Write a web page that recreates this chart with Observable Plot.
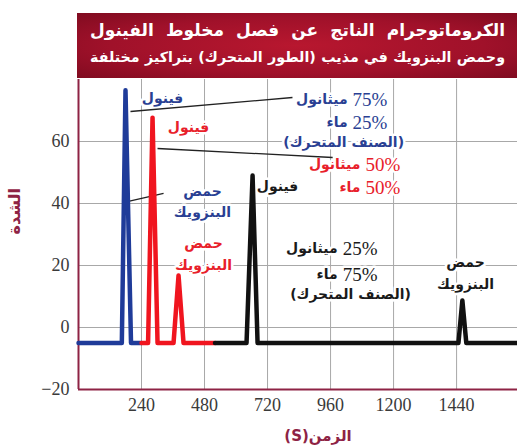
<!DOCTYPE html>
<html><head><meta charset="utf-8">
<script src="https://cdn.jsdelivr.net/npm/d3@7"></script>
<script src="https://cdn.jsdelivr.net/npm/@observablehq/plot@0.6"></script>
<style>
body{margin:0;background:#fff;width:517px;height:448px;overflow:hidden;font-family:"DejaVu Sans",sans-serif;}
#title{margin:13px 0 0 77px;width:440px;height:65px;box-sizing:border-box;padding:4px 12px 0 13px;
  background:radial-gradient(ellipse at 50% 50%,#b8172f 0%,#a0112a 60%,#800b20 100%);
  color:#fff;font-weight:bold;font-size:15px;line-height:27px;direction:rtl;overflow:hidden;}
#title div{text-align:justify;text-align-last:justify;white-space:nowrap;overflow:hidden;}
#chart svg{display:block}
</style></head>
<body>
<div id="title"><div>الكروماتوجرام الناتج عن فصل مخلوط الفينول</div><div>وحمض البنزويك في مذيب (الطور المتحرك) بتراكيز مختلفة</div></div>
<div id="chart"></div>
<script>
// Series: time (s) and intensity
const blueT = [0, 165, 179, 200, 240];
const blueV = [-5, -5, 76.5, -5, -5];
const redT = [240, 265, 282, 301, 362, 381, 400, 520];
const redV = [-5, -5, 67.7, -5, -5, 16.8, -5, -5];
const blackT = [520, 640, 663, 682, 1447, 1462, 1477, 1672];
const blackV = [-5, -5, 49, -5, -5, 8.7, -5, -5];

// Axis ticks
const xTicks = [240, 480, 720, 960, 1200, 1440];
const yTicks = [-20, 0, 20, 40, 60];
const yGrid = [0, 20, 40, 60];

// Annotation texts
const phenolLabel = "فينول";
const benzoicLabel = "حمض\nالبنزويك";
const mobileLabel = "(الصنف المتحرك)";
const yLabel = "الشدة";
const xLabel = "(S)الزمن";

const blue = "#2a3f93", red = "#e8202a", black = "#1a1a1a", maroon = "#8e2344";

// phenol labels (blue, red, black)
const phX = [320, 419, 758], phY = [73.9, 64.5, 45.5], phC = [blue, red, black];
// benzoic acid labels
const bzX = [472, 476, 1474], bzY = [41.3, 24.3, 18.1], bzC = [blue, red, black];
// solvent composition lines
const pct = ["75%", "25%", "50%", "50%", "25%", "75%"];
const solvent = ["ميثانول", "ماء", "ميثانول", "ماء", "ميثانول", "ماء"];
const pctX = [1044, 1044, 1093, 1093, 1006, 1006];
const pctY = [73.55, 66.13, 52.58, 45.16, 25.48, 17.10];
const pctC = [blue, blue, red, red, black, black];
// mobile phase labels
const mpX = [1010, 1036], mpY = [59.68, 10.65], mpC = [blue, black];
// callout lines
const lkX1 = [198, 301, 190], lkY1 = [69.68, 57.74, 40.65];
const lkX2 = [815, 968, 324], lkY2 = [74.19, 54.84, 43.23];

const mk = (T, V) => T.map((t, i) => ({t, v: V[i]}));
const idx = a => a.map((_, i) => i);
const arab = {fontFamily: "DejaVu Sans", fontWeight: "bold", stroke: "white", strokeWidth: 5};
const serif = "'Liberation Serif', 'DejaVu Serif', serif";

const chart = Plot.plot({
  width: 517, height: 370,
  marginTop: 1, marginBottom: 59, marginLeft: 78, marginRight: 0,
  x: {domain: [0, 1672]},
  y: {domain: [-20, 80]},
  style: {fontFamily: serif, fontSize: "18px", color: "#3a3a3a", background: "#fff", overflow: "visible"},
  marks: [
    Plot.gridX(xTicks, {stroke: "#a8a8a8", strokeOpacity: 1, strokeWidth: 1}),
    Plot.gridY(yGrid, {stroke: "#a8a8a8", strokeOpacity: 1, strokeWidth: 1}),
    Plot.axisX(xTicks, {tickSize: 0, tickPadding: 9, label: null, fontSize: 18, fontFamily: serif, fill: "#3a3a3a", tickFormat: d => String(d)}),
    Plot.axisY(yTicks, {tickSize: 0, tickPadding: 9, label: null, fontSize: 18, fontFamily: serif, fill: "#3a3a3a", tickFormat: d => d < 0 ? "\u2212" + Math.abs(d) : String(d)}),
    Plot.ruleX([0], {stroke: maroon, strokeWidth: 2}),
    Plot.ruleY([-20], {stroke: maroon, strokeWidth: 2}),
    Plot.text(idx(phX), {x: i => phX[i], y: i => phY[i], text: () => phenolLabel, fill: i => phC[i], fontSize: 14, ...arab}),
    Plot.text(idx(bzX), {x: i => bzX[i], y: i => bzY[i], text: () => benzoicLabel, fill: i => bzC[i], fontSize: 14, lineHeight: 1.55, ...arab}),
    Plot.text(idx(pct), {x: i => pctX[i], y: i => pctY[i], text: i => pct[i], fill: i => pctC[i], textAnchor: "start", fontSize: 19, fontFamily: serif, stroke: "white", strokeWidth: 5}),
    Plot.text(idx(solvent), {x: i => pctX[i], y: i => pctY[i], text: i => solvent[i], fill: i => pctC[i], textAnchor: "end", dx: -5, fontSize: 14, ...arab}),
    Plot.text(idx(mpX), {x: i => mpX[i], y: i => mpY[i], text: () => mobileLabel, fill: i => mpC[i], fontSize: 14, ...arab}),
    Plot.link(idx(lkX1), {x1: i => lkX1[i], y1: i => lkY1[i], x2: i => lkX2[i], y2: i => lkY2[i], stroke: "#222", strokeWidth: 1.3}),
    Plot.line(mk(blueT, blueV), {x: "t", y: "v", stroke: "#1f3b99", strokeWidth: 4.5, strokeLinejoin: "round", strokeLinecap: "round"}),
    Plot.line(mk(redT, redV), {x: "t", y: "v", stroke: "#f0151f", strokeWidth: 4.5, strokeLinejoin: "round", strokeLinecap: "round"}),
    Plot.line(mk(blackT, blackV), {x: "t", y: "v", stroke: "#111", strokeWidth: 4.5, strokeLinejoin: "round", strokeLinecap: "round"}),
    Plot.text([yLabel], {frameAnchor: "left", dx: -64, rotate: -90, fill: maroon, fontWeight: "bold", fontSize: 16, fontFamily: "DejaVu Sans"}),
    Plot.text([xLabel], {frameAnchor: "bottom", dx: 20, dy: 51, fill: maroon, fontWeight: "bold", fontSize: 15, fontFamily: "DejaVu Sans"})
  ]
});
document.getElementById("chart").appendChild(chart);

// shrink each title line until it fits the banner
document.querySelectorAll("#title div").forEach(el => {
  let fs = 17;
  el.style.fontSize = fs + "px";
  while (el.scrollWidth > el.clientWidth + 0.5 && fs > 9) {
    fs -= 0.25;
    el.style.fontSize = fs + "px";
  }
});
</script>
</body></html>
